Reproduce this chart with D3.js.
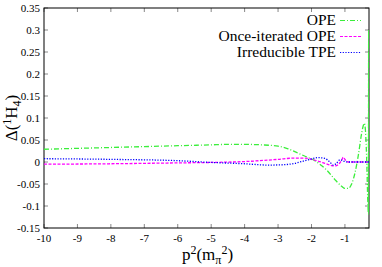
<!DOCTYPE html>
<html>
<head>
<meta charset="utf-8">
<script src="https://cdn.jsdelivr.net/npm/d3@7"></script>
<style>
  body { margin: 0; background: #fff; }
</style>
</head>
<body>
<div id="chart"></div>
<script>
// ----------------
// data
// ----------------
const xTicks = [-10, -9, -8, -7, -6, -5, -4, -3, -2, -1];
const yTicks = [-0.15, -0.1, -0.05, 0, 0.05, 0.1, 0.15, 0.2, 0.25, 0.3, 0.35];

const opeX = [-10, -9, -8, -7, -6, -5, -4.5, -4, -3.5, -3, -2.7, -2.4, -2.1, -1.9, -1.7, -1.5, -1.3, -1.1, -1.0, -0.9, -0.8, -0.7, -0.6, -0.5, -0.45, -0.42, -0.39, -0.36, -0.34, -0.32, -0.31, -0.30, -0.295, -0.29, -0.285, -0.28];
const opeY = [0.029, 0.031, 0.033, 0.035, 0.037, 0.039, 0.040, 0.040, 0.039, 0.036, 0.030, 0.020, 0.010, 0.003, -0.008, -0.022, -0.040, -0.055, -0.060, -0.060, -0.050, -0.025, 0.015, 0.065, 0.083, 0.088, 0.075, 0.030, -0.020, -0.080, -0.100, -0.115, 0.05, 0.30, -0.05, -0.12];

const iterX = [-10, -8, -6, -5, -4, -3, -2.5, -2.2, -2.0, -1.8, -1.6, -1.4, -1.3, -1.2, -1.1, -1.05, -1.0, -0.95, -0.9, -0.28];
const iterY = [-0.005, -0.004, -0.002, -0.001, 0.001, 0.006, 0.009, 0.009, 0.006, 0.002, -0.003, -0.008, -0.009, -0.006, 0.004, 0.011, 0.006, 0.001, 0, 0];

const tpeX = [-10, -8, -6, -5, -4, -3.3, -2.8, -2.5, -2.2, -2.0, -1.8, -1.6, -1.45, -1.35, -1.25, -1.15, -1.1, -1.0, -0.9, -0.28];
const tpeY = [0.0075, 0.006, 0.003, -0.001, -0.004, -0.007, -0.006, -0.003, 0.003, 0.007, 0.010, 0.008, 0.000, -0.007, -0.003, 0.005, 0.004, 0.001, 0, 0];

const seriesNames = ["OPE", "Once-iterated OPE", "Irreducible TPE"];

// ----------------
// layout
// ----------------
const margin = { top: 8, right: 13, bottom: 39, left: 44 },
    width = 382 - margin.left - margin.right,
    height = 267 - margin.top - margin.bottom;

const font = "Liberation Serif";

const svgRoot = d3.select("#chart")
    .append("svg")
    .attr("width", 382)
    .attr("height", 267);

const svg = svgRoot.append("g")
    .attr("transform", `translate(${margin.left},${margin.top})`);

const x = d3.scaleLinear().domain([-10, -0.28]).range([0, width]);
const y = d3.scaleLinear().domain([-0.15, 0.35]).range([height, 0]);

// ticks inside, on all four sides
const tickColor = "#888";
xTicks.forEach(d => {
    svg.append("line").attr("x1", x(d)).attr("x2", x(d)).attr("y1", height).attr("y2", height - 4).attr("stroke", tickColor);
    svg.append("line").attr("x1", x(d)).attr("x2", x(d)).attr("y1", 0).attr("y2", 4).attr("stroke", tickColor);
});
yTicks.forEach(d => {
    svg.append("line").attr("x1", 0).attr("x2", 4).attr("y1", y(d)).attr("y2", y(d)).attr("stroke", tickColor);
    svg.append("line").attr("x1", width).attr("x2", width - 4).attr("y1", y(d)).attr("y2", y(d)).attr("stroke", tickColor);
});

// tick labels
svgRoot.selectAll("text.xl").data(xTicks).join("text")
    .attr("class", "xl")
    .attr("x", d => margin.left + x(d)).attr("y", margin.top + height + 14)
    .attr("font-size", 11)
    .attr("font-family", font)
    .attr("text-anchor", "middle")
    .text(d => d);

svgRoot.selectAll("text.yl").data(yTicks).join("text")
    .attr("class", "yl")
    .attr("x", margin.left - 4).attr("y", d => margin.top + y(d) + 4)
    .attr("font-size", 11)
    .attr("font-family", font)
    .attr("text-anchor", "end")
    .text(d => +d.toFixed(2));

// frame
svg.append("rect")
    .attr("width", width).attr("height", height)
    .attr("fill", "none").attr("stroke", "#000").attr("stroke-width", 1);

// axis labels
const xl = svgRoot.append("text")
    .attr("x", margin.left + width / 2 + 1).attr("y", margin.top + height + 32)
    .attr("font-size", 17)
    .attr("font-family", font)
    .attr("text-anchor", "middle");
xl.append("tspan").text("p");
xl.append("tspan").attr("dy", -6).attr("font-size", 12).text("2");
xl.append("tspan").attr("dy", 6).text("(m");
xl.append("tspan").attr("dy", 4).attr("font-size", 12).text("π");
xl.append("tspan").attr("dy", -10).attr("font-size", 12).text("2");
xl.append("tspan").attr("dy", 6).text(")");

const yl = svgRoot.append("text")
    .attr("transform", `translate(${margin.left - 27},${margin.top + height / 2}) rotate(-90)`)
    .attr("font-size", 17)
    .attr("font-family", font)
    .attr("text-anchor", "middle");
yl.append("tspan").text("Δ(");
yl.append("tspan").attr("dy", -6).attr("font-size", 12).text("1");
yl.append("tspan").attr("dy", 6).text("H");
yl.append("tspan").attr("dy", 4).attr("font-size", 12).text("4");
yl.append("tspan").attr("dy", -4).text(")");

// curves
svg.append("clipPath").attr("id", "clip")
    .append("rect").attr("width", width).attr("height", height);

const series = [
    { name: seriesNames[0], xs: opeX, ys: opeY, color: "#3bee3b", dash: "5,2,1,2" },
    { name: seriesNames[1], xs: iterX, ys: iterY, color: "#ff00ff", dash: "3,1.5" },
    { name: seriesNames[2], xs: tpeX, ys: tpeY, color: "#0000ff", dash: "1.2,1.5" }
];

const line = d3.line()
    .x(d => x(d[0]))
    .y(d => y(d[1]))
    .curve(d3.curveMonotoneX);

svg.append("g").attr("clip-path", "url(#clip)")
    .selectAll("path")
    .data(series)
    .join("path")
    .attr("d", s => line(s.xs.map((v, i) => [v, s.ys[i]])))
    .attr("fill", "none")
    .attr("stroke", s => s.color)
    .attr("stroke-width", 1.3)
    .attr("stroke-dasharray", s => s.dash);

// legend
svgRoot.selectAll("text.lg").data(series).join("text")
    .attr("class", "lg")
    .attr("x", margin.left + 292).attr("y", (d, i) => margin.top + 17 + i * 16)
    .attr("font-size", 15.5)
    .attr("font-family", font)
    .attr("text-anchor", "end")
    .text(d => d.name);
svgRoot.selectAll("line.lg").data(series).join("line")
    .attr("class", "lg")
    .attr("x1", margin.left + 296).attr("x2", margin.left + 317)
    .attr("y1", (d, i) => margin.top + 12.5 + i * 16).attr("y2", (d, i) => margin.top + 12.5 + i * 16)
    .attr("stroke", d => d.color).attr("stroke-width", 1.2)
    .attr("stroke-dasharray", d => d.dash);
</script>
</body>
</html>
